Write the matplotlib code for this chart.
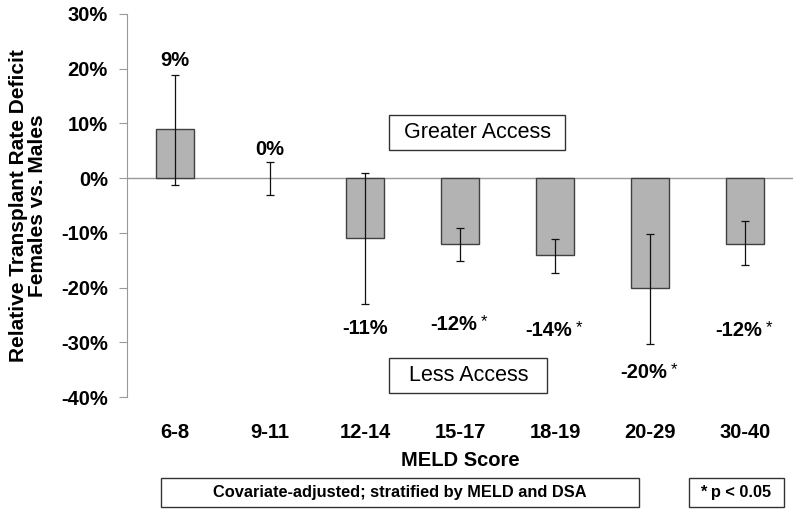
import matplotlib.pyplot as plt
from matplotlib.patches import Rectangle
from matplotlib.ticker import FuncFormatter

plt.rcParams['font.family'] = ['Liberation Sans', 'DejaVu Sans']
plt.rcParams['font.weight'] = 'bold'

categories = ['6-8', '9-11', '12-14', '15-17', '18-19', '20-29', '30-40']
values = [9, 0, -11, -12, -14, -20, -12]
err_low = [-1.2, -3, -23, -15.2, -17.3, -30.3, -15.8]
err_high = [18.8, 2.9, 1.0, -9.2, -11.2, -10.3, -7.9]
labels = ['9%', '0%', '-11%', '-12%*', '-14%*', '-20%*', '-12%*']
label_y = [21.5, 5.3, -27.5, -26.7, -27.9, -35.5, -27.9]

x = list(range(len(categories)))
yerr = [[v - lo for v, lo in zip(values, err_low)],
        [hi - v for v, hi in zip(values, err_high)]]

fig = plt.figure(figsize=(8, 5.15), dpi=100)
ax = fig.add_axes([0.159, 0.229, 0.832, 0.744])

edges = ['#404040' if v != 0 else 'none' for v in values]
ax.bar(x, values, width=0.4, color='#b3b3b3', edgecolor=edges, linewidth=1.0, zorder=2)
ax.errorbar(x, values, yerr=yerr, fmt='none', ecolor='#111111', elinewidth=0.9,
            capsize=3, capthick=0.9, zorder=3)
ax.axhline(0, color='#999999', linewidth=1.0, zorder=1)

for xi, lab, ly in zip(x, labels, label_y):
    if lab.endswith('*'):
        ax.text(xi - 0.07, ly, lab[:-1], ha='center', va='center', fontsize=14.5, fontweight='bold')
        ax.text(xi + 0.25, ly + 0.5, '*', ha='center', va='center', fontsize=12,
                fontweight='normal')
    else:
        ax.text(xi, ly, lab, ha='center', va='center', fontsize=14.5, fontweight='bold')

ax.set_xlim(-0.5, 6.5)
ax.set_ylim(-40, 30)
ax.set_yticks(range(-40, 31, 10))
ax.yaxis.set_major_formatter(FuncFormatter(lambda v, p: f'{int(v)}%'))
ax.set_xticks(x)
ax.set_xticklabels(categories)
ax.tick_params(axis='x', length=0, pad=19, labelsize=14.5)
ax.tick_params(axis='y', length=6, color='#999999', pad=8, labelsize=14.5)
for s in ['top', 'right', 'bottom']:
    ax.spines[s].set_visible(False)
ax.spines['left'].set_color('#999999')

ax.set_xlabel('MELD Score', fontsize=14.5, fontweight='bold', labelpad=6)
ax.set_ylabel('Relative Transplant Rate Deficit\nFemales vs. Males', fontsize=15,
              fontweight='bold', labelpad=10, linespacing=1.0)

# annotation boxes inside the plot
ax.add_patch(Rectangle((2.258, 5.13), 1.842, 6.41, facecolor='white',
                       edgecolor='#333333', linewidth=1, zorder=4))
ax.text(3.179, 8.33, 'Greater Access', ha='center', va='center', fontsize=15.5,
        fontweight='normal', zorder=5)
ax.add_patch(Rectangle((2.258, -39.2), 1.662, 6.4, facecolor='white',
                       edgecolor='#333333', linewidth=1, zorder=4))
ax.text(3.09, -36.0, 'Less Access', ha='center', va='center', fontsize=15.5,
        fontweight='normal', zorder=5)

# footnote boxes
fig.patches.append(Rectangle((0.201, 0.0155), 0.5975, 0.0563, transform=fig.transFigure,
                             facecolor='white', edgecolor='#333333', linewidth=1))
fig.text(0.5, 0.0437, 'Covariate-adjusted; stratified by MELD and DSA', ha='center',
         va='center', fontsize=11.8, fontweight='bold')
fig.patches.append(Rectangle((0.861, 0.0155), 0.119, 0.0563, transform=fig.transFigure,
                             facecolor='white', edgecolor='#333333', linewidth=1))
fig.text(0.92, 0.0437, '* p < 0.05', ha='center', va='center', fontsize=11.8,
         fontweight='bold')

fig.savefig('out.png', dpi=100)
